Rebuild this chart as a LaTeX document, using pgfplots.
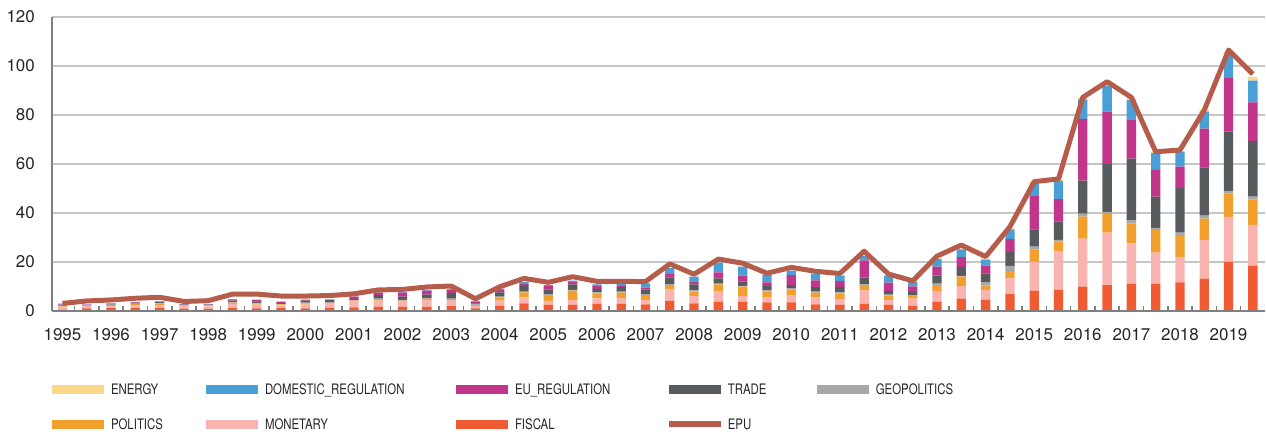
\documentclass[border=0pt]{standalone}
\usepackage{fontspec}
\setmainfont{TeX Gyre Heros}
\usepackage{graphicx}
\usepackage{pgfplots}
\usepackage{pgfplotstable}
\pgfplotsset{compat=1.18}

\definecolor{energy}{HTML}{FCD98A}
\definecolor{domreg}{HTML}{4A9FD6}
\definecolor{eureg}{HTML}{C1358B}
\definecolor{trade}{HTML}{585B5D}
\definecolor{geo}{HTML}{A5A7A9}
\definecolor{politics}{HTML}{F2A02D}
\definecolor{monetary}{HTML}{F9B4AF}
\definecolor{fiscal}{HTML}{F15B33}
\definecolor{epu}{HTML}{B65C4A}
\definecolor{gridc}{HTML}{C6C6C6}
\definecolor{axisc}{HTML}{7F7F7F}

% legend text: condensed look
\newcommand{\legtxt}[2]{\makebox[#1][l]{\scalebox{0.79}[1]{#2}}}

\pgfplotsset{
  sw/.style={legend image code/.code={
      \fill[#1, draw=none] (0bp,-4.5bp) rectangle (52bp,4.5bp);
      \path[draw=none, fill=none] (0bp,-17.5bp) rectangle (59bp,17.5bp);}},
  swline/.style={legend image code/.code={
      \draw[#1, line width=5.7bp] (0bp,0bp) -- (52bp,0bp);
      \path[draw=none, fill=none] (0bp,-17.5bp) rectangle (59bp,17.5bp);}},
}

% half-year index, components (bottom to top), EPU
\pgfplotstableread{
i F M P G T EU D E EPU
0 0.6 1.2 0.2 0.2 0.2 0.2 0.4 0 3.1
1 1.1 0.9 0.2 0.1 0.1 0.2 0.1 0 4.1
2 1.2 0.8 0.4 0.2 0.3 0.1 0.1 0 4.5
3 1.2 1.0 0.7 0.1 0.3 0.2 0.1 0 5.2
4 1.4 1.0 0.7 0.2 0.4 0.1 0.1 0 5.6
5 0.9 1.1 0.3 0.1 0.2 0.1 0.1 0 3.9
6 0.9 1.0 0.4 0.1 0.2 0.1 0.1 0 4.2
7 1.2 1.7 0.5 0.3 0.5 0.4 0.2 0 6.9
8 1.1 1.5 0.4 0.3 0.6 0.5 0.2 0 6.9
9 1.2 1.1 0.4 0.2 0.4 0.4 0.1 0 6.1
10 1.1 1.5 0.5 0.3 0.8 0.3 0.1 0 6.1
11 1.3 1.7 0.3 0.3 0.8 0.2 0.1 0 6.3
12 1.5 2.3 0.4 0.3 0.3 1.1 0.1 0 7.0
13 1.8 2.4 0.6 0.2 1.5 1.0 0.1 0 8.6
14 1.8 2.0 0.4 0.3 1.4 1.6 0.3 0 8.8
15 1.8 2.7 0.5 0.3 1.4 1.6 0.3 0 9.8
16 2.0 2.4 0.4 0.3 2.3 1.3 0.2 0 10.2
17 1.1 0.9 0.4 0.3 0.4 0.7 0.3 0 5.0
18 2.2 2.0 1.4 0.3 1.7 1.0 0.5 0 9.9
19 3.1 2.5 2.0 0.3 2.4 1.0 0.5 0.2 13.3
20 2.6 1.5 2.4 0.4 1.9 1.4 0.4 0 11.7
21 2.6 1.9 3.8 0.3 2.3 1.2 0.3 0 14.0
22 2.9 2.3 2.0 0.4 1.4 1.2 0.7 0 12.1
23 2.9 2.4 2.2 0.4 1.8 0.6 0.7 0 12.1
24 2.7 1.8 2.0 0.4 1.9 0.7 1.8 0 12.0
25 4.1 4.9 1.6 0.4 2.7 1.3 2.5 0 19.2
26 3.1 3.0 1.8 0.5 2.5 1.2 1.9 0 15.0
27 3.8 4.1 3.0 0.3 2.1 2.5 3.9 0 21.2
28 3.8 2.3 3.8 0.4 1.8 2.3 3.7 0 19.5
29 3.5 2.1 2.4 0.4 1.8 1.5 3.0 0 15.4
30 3.5 3.0 2.3 0.5 1.3 4.0 1.9 0 17.8
31 2.7 2.9 1.9 0.4 1.8 2.8 2.7 0.2 16.2
32 2.6 2.3 2.3 0.4 2.2 2.4 2.2 0.2 15.3
33 2.9 5.5 2.2 0.3 2.7 7.1 1.7 0.3 24.4
34 2.6 1.9 1.9 0.3 1.5 3.4 2.7 0.3 15.1
35 2.2 2.8 1.1 0.3 1.4 2.3 1.9 0.3 12.3
36 3.8 4.4 2.4 0.6 3.2 3.7 3.1 0.3 22.4
37 5.0 5.2 3.8 0.3 3.7 4.0 3.2 0.4 26.9
38 4.6 4.0 1.9 1.3 3.6 3.1 2.5 0.4 22.2
39 6.9 6.4 3.0 2.1 5.7 5.2 4.0 0.4 34.4
40 8.3 11.8 5.1 1.1 7.0 13.6 5.2 0.7 52.8
41 8.6 15.9 3.8 0.7 7.6 9.1 7.4 0.6 53.9
42 9.9 19.6 9.0 1.2 13.5 25.2 8.0 0.8 87.2
43 10.6 21.4 7.6 0.9 19.4 21.5 10.4 0.9 93.6
44 11.2 16.4 8.2 1.3 25.1 16.0 7.9 0.7 87.2
45 11.2 12.6 9.3 0.8 12.8 10.9 6.8 0.5 65.0
46 11.7 10.1 8.9 1.3 18.3 8.6 6.0 0.5 65.7
47 13.2 15.8 8.7 1.2 19.7 15.8 7.0 0.6 82.0
48 20.0 18.4 9.6 1.0 24.2 22.0 9.3 1.5 106.5
49 18.5 16.7 10.4 1.1 22.7 15.8 8.8 1.6 96.7
}\data

\begin{document}
\begin{tikzpicture}
\path[use as bounding box] (0,0) rectangle (1266bp,434bp);
\begin{axis}[
  at={(52bp,123bp)}, anchor=south west,
  scale only axis, width=1213bp, height=294bp,
  xmin=-0.43, xmax=49.5, ymin=0, ymax=120,
  ybar stacked, bar width=9.3bp,
  axis x line=bottom, axis y line=left,
  x axis line style={draw=none},
  y axis line style={-, draw=axisc, line width=2.5bp},
  ymajorgrids, grid style={draw=gridc, line width=1.3bp},
  ytick={0,20,...,120},
  xtick={0,2,...,48},
  xticklabels={1995,1996,1997,1998,1999,2000,2001,2002,2003,2004,2005,2006,2007,2008,2009,2010,2011,2012,2013,2014,2015,2016,2017,2018,2019},
  minor xtick={0.5,1.5,...,48.5},
  tick align=inside, major tick length=0pt, minor tick length=4.5bp,
  minor tick style={draw=axisc, line width=1.5bp},
  tick label style={font=\fontsize{17}{20}\selectfont, text=black!85,
    /pgf/number format/assume math mode=true},
  xticklabel style={anchor=north, inner sep=0pt, yshift=-17.5bp},
  yticklabel style={anchor=east, inner sep=0pt, xshift=-17bp},
  yticklabel={\pgfmathprintnumber{\tick}},
]
\addplot[fill=fiscal, draw=none] table[x=i, y=F] {\data};
\addplot[fill=monetary, draw=none] table[x=i, y=M] {\data};
\addplot[fill=politics, draw=none] table[x=i, y=P] {\data};
\addplot[fill=geo, draw=none] table[x=i, y=G] {\data};
\addplot[fill=trade, draw=none] table[x=i, y=T] {\data};
\addplot[fill=eureg, draw=none] table[x=i, y=EU] {\data};
\addplot[fill=domreg, draw=none] table[x=i, y=D] {\data};
\addplot[fill=energy, draw=none] table[x=i, y=E] {\data};
\end{axis}
\begin{axis}[
  at={(52bp,123bp)}, anchor=south west,
  scale only axis, width=1213bp, height=294bp,
  xmin=-0.43, xmax=49.5, ymin=0, ymax=120,
  axis x line=bottom, axis y line=none,
  x axis line style={-, draw=axisc, line width=2.5bp},
  xtick=\empty, ytick=\empty,
  legend columns=5,
  legend style={at={(0,0)}, anchor=north west, yshift=-60.5bp,
    draw=none, fill=none, inner sep=0pt, outer sep=0pt,
    row sep=0pt, column sep=0pt,
    font=\fontsize{14.5}{17}\selectfont, text=black!85,
    nodes={inner sep=0pt, outer sep=0pt, text height=10.5bp, text depth=0pt},
    cells={anchor=west}},
]
\addlegendimage{sw=energy}
\addlegendentry{\legtxt{95bp}{ENERGY}}
\addlegendimage{sw=domreg}
\addlegendentry{\legtxt{191bp}{DOMESTIC\_REGULATION}}
\addlegendimage{sw=eureg}
\addlegendentry{\legtxt{151bp}{EU\_REGULATION}}
\addlegendimage{sw=trade}
\addlegendentry{\legtxt{89bp}{TRADE}}
\addlegendimage{sw=geo}
\addlegendentry{\legtxt{100bp}{GEOPOLITICS}}
\addlegendimage{sw=politics}
\addlegendentry{\legtxt{95bp}{POLITICS}}
\addlegendimage{sw=monetary}
\addlegendentry{\legtxt{191bp}{MONETARY}}
\addlegendimage{sw=fiscal}
\addlegendentry{\legtxt{151bp}{FISCAL}}
\addlegendimage{swline=epu}
\addlegendentry{\legtxt{89bp}{EPU}}
\addplot[epu, line width=5bp, line join=round, no marks] table[x=i, y=EPU] {\data};
\end{axis}
\end{tikzpicture}
\end{document}
